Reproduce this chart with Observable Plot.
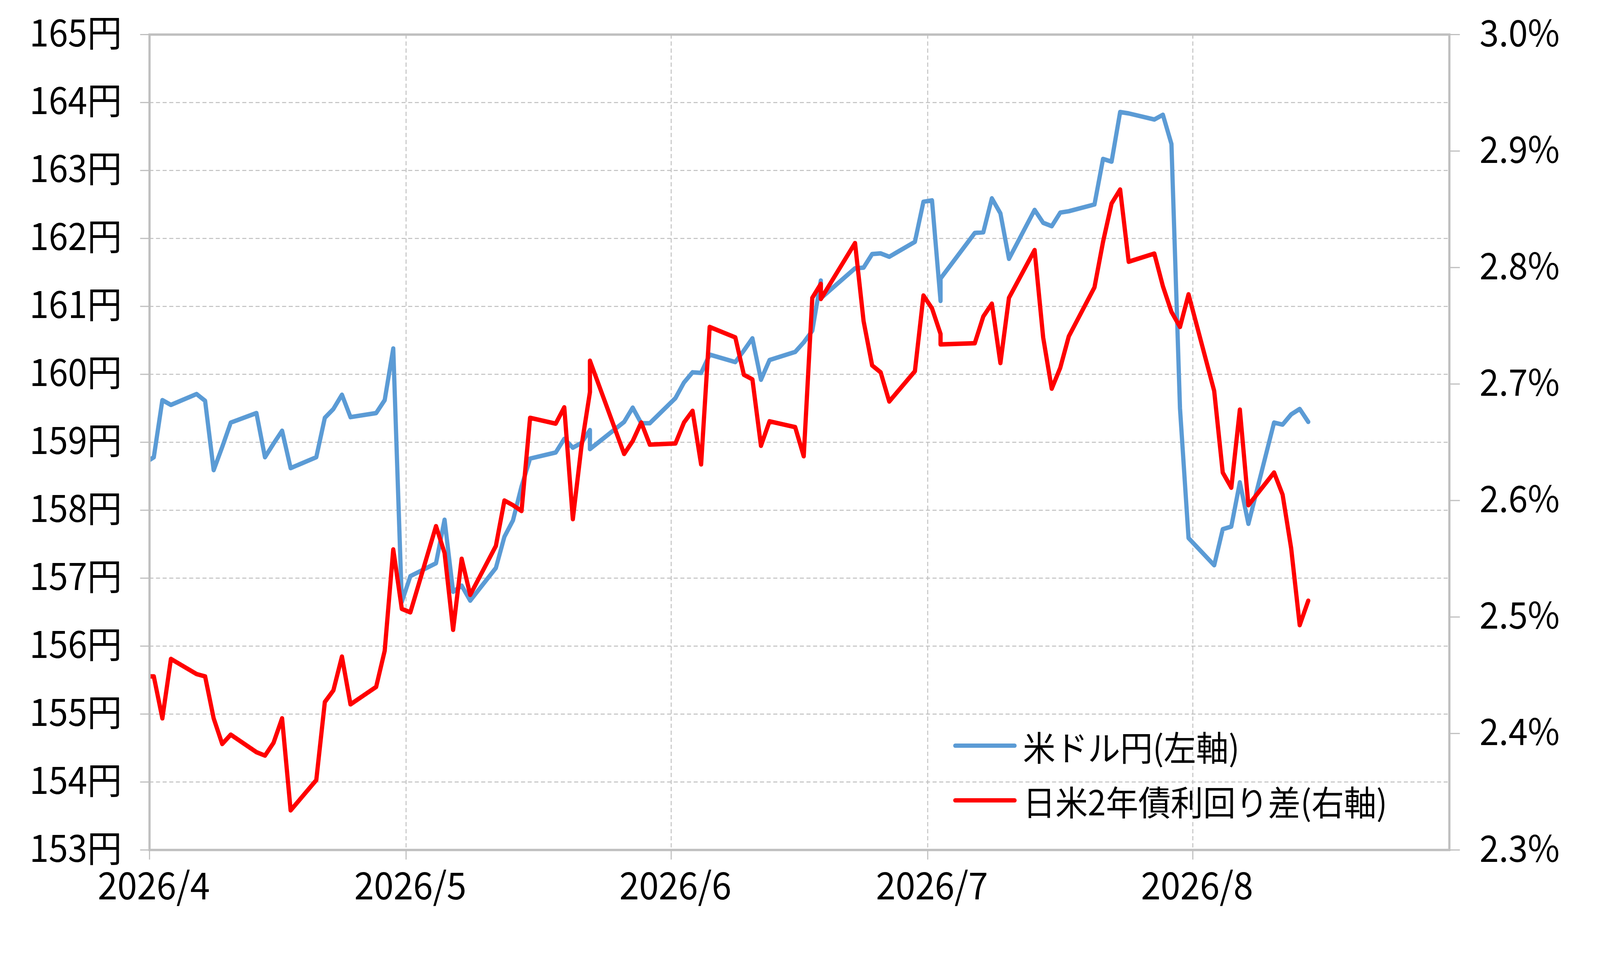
<!DOCTYPE html>
<html>
<head>
<meta charset="utf-8">
<script src="https://cdn.jsdelivr.net/npm/d3@7"></script>
<script src="https://cdn.jsdelivr.net/npm/@observablehq/plot@0.6"></script>
<style>
  html, body { margin: 0; padding: 0; background: #fff; overflow: hidden; }
  #wrap { position: absolute; left: 0; top: 0; width: 4339px; height: 2452px; background: #fff; transform-origin: 0 0; }
  #wrap svg { display: block; }
  #legend { position: absolute; left: 2585px; top: 1838px; font-family: "Noto Sans CJK JP", sans-serif; font-size: 88px; color: #000; }
  #legend .row { display: flex; align-items: center; height: 140px; white-space: nowrap; }
  #legend .sw { display: inline-block; width: 172px; height: 11px; border-radius: 6px; margin-right: 17px; }
</style>
</head>
<body>
<div id="wrap"></div>
<script>
// ---- data ----
const dates = [
  "2026-03-31","2026-04-01","2026-04-02","2026-04-03","2026-04-06","2026-04-07","2026-04-08","2026-04-09","2026-04-10",
  "2026-04-13","2026-04-14","2026-04-15","2026-04-16","2026-04-17","2026-04-20","2026-04-21","2026-04-22","2026-04-23","2026-04-24",
  "2026-04-27","2026-04-28","2026-04-29","2026-04-30","2026-05-01","2026-05-04","2026-05-05","2026-05-06","2026-05-07","2026-05-08",
  "2026-05-11","2026-05-12","2026-05-13","2026-05-14","2026-05-15","2026-05-18","2026-05-19","2026-05-20","2026-05-21","2026-05-22",
  "2026-05-22","2026-05-26","2026-05-27","2026-05-28","2026-05-29","2026-06-01","2026-06-02","2026-06-03","2026-06-04","2026-06-05",
  "2026-06-08","2026-06-09","2026-06-10","2026-06-11","2026-06-12","2026-06-15","2026-06-16","2026-06-17","2026-06-18","2026-06-18",
  "2026-06-22","2026-06-23","2026-06-24","2026-06-25","2026-06-26","2026-06-29","2026-06-30","2026-07-01","2026-07-02","2026-07-02",
  "2026-07-06","2026-07-07","2026-07-08","2026-07-09","2026-07-10","2026-07-13","2026-07-14","2026-07-15","2026-07-16","2026-07-17",
  "2026-07-20","2026-07-21","2026-07-22","2026-07-23","2026-07-24","2026-07-27","2026-07-28","2026-07-29","2026-07-30","2026-07-31",
  "2026-08-03","2026-08-04","2026-08-05","2026-08-06","2026-08-07","2026-08-10","2026-08-11","2026-08-12","2026-08-13","2026-08-14"
];
const usdjpy = [
  158.70,158.78,159.62,159.55,159.71,159.61,158.59,158.93,159.29,
  159.43,158.78,158.98,159.17,158.62,158.78,159.36,159.49,159.70,159.37,
  159.43,159.62,160.38,156.65,157.03,157.22,157.86,156.80,156.89,156.67,
  157.15,157.61,157.85,158.35,158.76,158.85,159.05,158.92,158.99,159.18,
  158.90,159.30,159.51,159.28,159.28,159.65,159.88,160.03,160.02,160.29,
  160.18,160.35,160.53,159.92,160.21,160.33,160.47,160.64,161.38,161.12,
  161.56,161.57,161.77,161.78,161.73,161.95,162.54,162.56,161.08,161.41,
  162.08,162.09,162.59,162.37,161.70,162.42,162.23,162.18,162.38,162.40,
  162.50,163.17,163.13,163.86,163.84,163.75,163.82,163.39,159.50,157.59,
  157.19,157.72,157.76,158.41,157.80,159.29,159.26,159.41,159.49,159.30
];
const spread = [
  2.449,2.449,2.413,2.464,2.451,2.449,2.413,2.391,2.399,
  2.384,2.381,2.392,2.413,2.334,2.360,2.427,2.437,2.466,2.425,
  2.440,2.471,2.558,2.507,2.504,2.578,2.555,2.489,2.550,2.519,
  2.561,2.600,2.596,2.591,2.671,2.666,2.680,2.584,2.646,2.693,
  2.720,2.640,2.651,2.667,2.648,2.649,2.667,2.677,2.631,2.749,
  2.740,2.708,2.704,2.647,2.668,2.663,2.638,2.774,2.786,2.773,
  2.821,2.754,2.716,2.710,2.685,2.711,2.776,2.765,2.743,2.734,
  2.735,2.758,2.769,2.718,2.774,2.815,2.740,2.696,2.714,2.741,
  2.783,2.822,2.855,2.867,2.805,2.812,2.784,2.762,2.749,2.777,
  2.694,2.624,2.611,2.678,2.596,2.624,2.605,2.559,2.493,2.514
];
const leftTicks = [153,154,155,156,157,158,159,160,161,162,163,164,165];
const rightTicks = [2.3,2.4,2.5,2.6,2.7,2.8,2.9,3.0];
const monthTicks = ["2026-04-01","2026-05-01","2026-06-01","2026-07-01","2026-08-01"];
const seriesNames = ["米ドル円(左軸)", "日米2年債利回り差(右軸)"];
const seriesColors = ["#5b9bd5", "#ff0000"];

// ---- build table ----
const yMin = 153, yMax = 165, rMin = 2.3, rMax = 3.0;
const toLeft = r => yMin + (r - rMin) * (yMax - yMin) / (rMax - rMin);
const toRight = v => rMin + (v - yMin) * (rMax - rMin) / (yMax - yMin);
const table = dates.map((d, i) => ({
  date: new Date(d + "T12:00:00Z"),
  usd: usdjpy[i],
  spreadL: toLeft(spread[i])
}));
const monthDates = monthTicks.map(d => new Date(d + "T00:00:00Z"));
const monthLabelDates = monthTicks.map(d => new Date(d + "T12:00:00Z"));

const gridStyle = {stroke: "#bfbfbf", strokeOpacity: 1, strokeWidth: 2.5, strokeDasharray: "11,7"};

const chart = Plot.plot({
  width: 4339,
  height: 2452,
  marginLeft: 405,
  marginRight: 409,
  marginTop: 88,
  marginBottom: 277,
  style: {fontFamily: "'Noto Sans CJK JP', sans-serif", background: "#fff", color: "#000"},
  x: {type: "utc", domain: [new Date("2026-04-01T00:00:00Z"), new Date("2026-08-31T00:00:00Z")], label: null},
  y: {domain: [yMin, yMax], label: null},
  marks: [
    Plot.gridY(leftTicks.slice(1, -1), gridStyle),
    Plot.gridX(monthDates.slice(1), gridStyle),
    Plot.line(table, {x: "date", y: "usd", stroke: seriesColors[0], strokeWidth: 11.5, strokeLinejoin: "round", strokeLinecap: "round", clip: true}),
    Plot.line(table, {x: "date", y: "spreadL", stroke: seriesColors[1], strokeWidth: 11.5, strokeLinejoin: "round", strokeLinecap: "round", clip: true}),
    Plot.frame({stroke: "#bfbfbf", strokeWidth: 6}),
    Plot.axisY(leftTicks, {anchor: "left", label: null, tickSize: 25, tickPadding: 50, stroke: "#bfbfbf", strokeWidth: 3, fill: "#000", fontSize: 94, tickFormat: d => d + "円"}),
    Plot.axisY(rightTicks.map(toLeft), {anchor: "right", label: null, tickSize: 28, tickPadding: 54, stroke: "#bfbfbf", strokeWidth: 3, fill: "#000", fontSize: 94, tickFormat: v => toRight(v).toFixed(1) + "%"}),
    Plot.axisX(monthDates, {anchor: "bottom", label: null, tickSize: 25, stroke: "#bfbfbf", strokeWidth: 3, tickFormat: () => ""}),
    Plot.axisX(monthLabelDates, {anchor: "bottom", label: null, tickSize: 0, tickPadding: 58, fill: "#000", fontSize: 96, tickFormat: d => `2026/${d.getUTCMonth() + 1}`})
  ]
});

const wrap = document.getElementById("wrap");
wrap.appendChild(chart);

// legend (inside plot area, lower right)
const legend = document.createElement("div");
legend.id = "legend";
seriesNames.forEach((name, i) => {
  const row = document.createElement("div");
  row.className = "row";
  const sw = document.createElement("span");
  sw.className = "sw";
  sw.style.background = seriesColors[i];
  row.appendChild(sw);
  row.appendChild(document.createTextNode(name));
  legend.appendChild(row);
});
wrap.appendChild(legend);

// fit the fixed-size 4339x2452 drawing into the actual viewport
function fit() {
  const sx = window.innerWidth / 4339;
  const sy = window.innerHeight / 2452;
  wrap.style.transform = `scale(${sx}, ${sy})`;
}
fit();
window.addEventListener("resize", fit);
</script>
</body>
</html>
